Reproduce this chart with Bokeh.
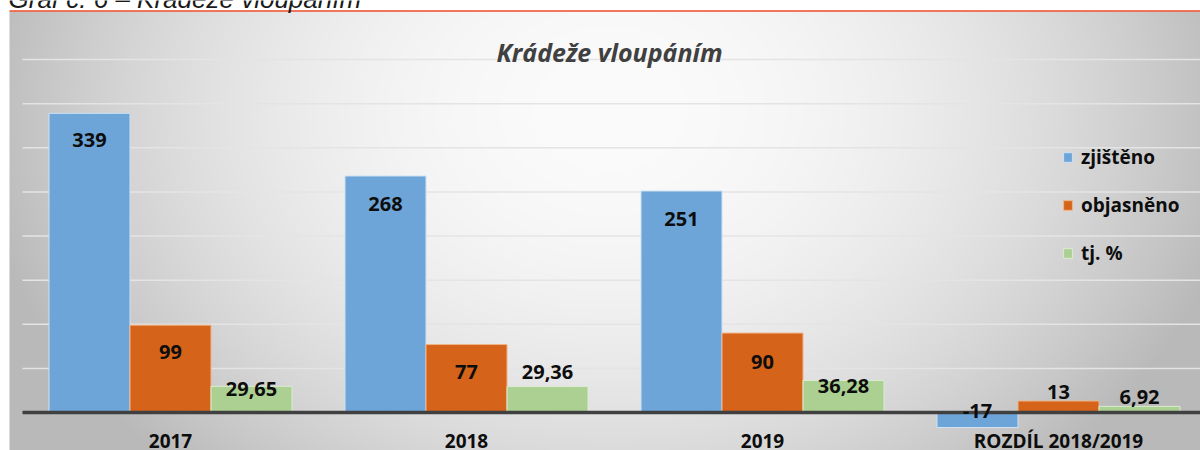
import numpy as np
from bokeh.plotting import figure
from bokeh.models import Range1d, ColumnDataSource, Legend, LegendItem, Label
from bokeh.transform import dodge
from bokeh.core.properties import value
from bokeh.embed import file_html
from bokeh.resources import INLINE

# ---------------- data ----------------
categories = ["2017", "2018", "2019", "ROZDÍL 2018/2019"]
zjisteno = [339, 268, 251, -17]
objasneno = [99, 77, 90, 13]
tj_procent = [29.65, 29.36, 36.28, 6.92]
zjisteno_labels = ["339", "268", "251", "-17"]
objasneno_labels = ["99", "77", "90", "13"]
tj_labels = ["29,65", "29,36", "36,28", "6,92"]
series_names = ["zjištěno", "objasněno", "tj. %"]
grid_values = [50, 100, 150, 200, 250, 300, 350, 400]
title_text = "Krádeže vloupáním"
header_text = "Graf č. 6 – Krádeže vloupáním"

# ---------------- layout / style ----------------
W, H = 1200, 450
PX_PER_CAT = 296.0
PLOT_LEFT = 22.0
ZERO_PX = 412.0
TOP_PX = 59.0
Y_MAX = 400.0
PY = (ZERO_PX - TOP_PX) / Y_MAX          # pixels per data unit
BAR_W = 81.0 / PX_PER_CAT

# label offsets (pixels, + = up from the bar end)
zj_off = [-27, -28, -28, 16.5]
ob_off = [-27, -27.5, -28.5, 9]
tj_off = [-3, 14.5, -6, 9.5]
CAT_LABEL_PX = 28

BLUE = "#6da5d8"
ORANGE = "#d5631a"
GREEN = "#abd092"
FONT = "Open Sans"
TXT = "#0d0d0d"


def X(px):
    return -0.5 + (px - PLOT_LEFT) / PX_PER_CAT


def Y(px):
    return (ZERO_PX - px) / PY


p = figure(width=W, height=H,
           x_range=Range1d(X(0), X(W)), y_range=Range1d(Y(H), Y(0)),
           x_axis_type=None, y_axis_type=None,
           output_backend="svg", toolbar_location=None,
           min_border=0, outline_line_color=None,
           background_fill_color="white", border_fill_color="white")

# ---- gradient panel background ----
nx, ny = 596, 220
gx = np.linspace(9, W, nx)
gy = np.linspace(H, 11, ny)          # bottom row first
GX, GY = np.meshgrid(gx, gy)
d2 = ((GX - 610) / 610) ** 2 + ((GY - 110) / 470) ** 2
v = np.clip(251 - 60 * d2, 185, 252).astype(np.uint8)
img = np.empty((ny, nx), dtype=np.uint32)
view = img.view(dtype=np.uint8).reshape((ny, nx, 4))
view[..., 0] = v
view[..., 1] = v
view[..., 2] = v
view[..., 3] = 255
p.image_rgba(image=[img], x=X(9), y=Y(H), dw=X(W) - X(9), dh=Y(11) - Y(H))

# red header rule
p.segment(x0=[X(9)], x1=[X(W)], y0=[Y(10.5)], y1=[Y(10.5)],
          line_color="#ef4a24", line_width=1.5)

# gridlines
n = len(categories)
p.segment(x0=[-0.5] * len(grid_values), x1=[n - 0.5] * len(grid_values),
          y0=grid_values, y1=grid_values, line_color="#e4e4e4", line_width=1.5)

xs = list(range(n))
src = ColumnDataSource(dict(
    x=xs, zj=zjisteno, ob=objasneno, tj=tj_procent,
    zj_lab=zjisteno_labels, ob_lab=objasneno_labels, tj_lab=tj_labels,
    zj_y=[v_ + o / PY for v_, o in zip(zjisteno, zj_off)],
    ob_y=[v_ + o / PY for v_, o in zip(objasneno, ob_off)],
    tj_y=[v_ + o / PY for v_, o in zip(tj_procent, tj_off)],
))

r1 = p.vbar(x=dodge("x", -BAR_W, range=p.x_range), top="zj", bottom=0, width=BAR_W,
            source=src, fill_color=BLUE, line_color="#cfe1f3", line_width=1)
r2 = p.vbar(x=dodge("x", 0, range=p.x_range), top="ob", bottom=0, width=BAR_W,
            source=src, fill_color=ORANGE, line_color="#f0b486", line_width=1)
r3 = p.vbar(x=dodge("x", BAR_W, range=p.x_range), top="tj", bottom=0, width=BAR_W,
            source=src, fill_color=GREEN, line_color="#dcebd2", line_width=1)

# zero line (category axis)
p.segment(x0=[-0.5], x1=[n - 0.5], y0=[0], y1=[0], line_color="#404040", line_width=3.5)

# value labels
for xoff, ycol, tcol in [(-BAR_W, "zj_y", "zj_lab"), (0, "ob_y", "ob_lab"), (BAR_W, "tj_y", "tj_lab")]:
    p.text(x=dodge("x", xoff, range=p.x_range), y=ycol, text=tcol, source=src,
           text_align="center", text_baseline="middle",
           text_font=value(FONT), text_font_style="bold", text_font_size="20px",
           text_color=TXT)

# category labels
p.text(x=xs, y=[-CAT_LABEL_PX / PY] * n, text=categories,
       text_align="center", text_baseline="middle",
       text_font=value(FONT), text_font_style="bold", text_font_size="19px",
       text_color=TXT)

# chart title
p.add_layout(Label(x=609, y=H - 51, x_units="screen", y_units="screen", text=title_text,
                   text_align="center", text_baseline="middle",
                   text_font=FONT, text_font_style="bold italic", text_font_size="25px",
                   text_color="#404040"))

# cut-off caption above the chart
p.add_layout(Label(x=8, y=H + 2, x_units="screen", y_units="screen", text=header_text,
                   text_align="left", text_baseline="alphabetic",
                   text_font="Liberation Sans", text_font_style="italic", text_font_size="26px",
                   text_color="#1a1a1a"))

legend = Legend(items=[LegendItem(label=series_names[0], renderers=[r1]),
                       LegendItem(label=series_names[1], renderers=[r2]),
                       LegendItem(label=series_names[2], renderers=[r3])],
                location=(1062, H - 266), orientation="vertical",
                glyph_width=11, glyph_height=12, label_standoff=8,
                label_height=26, spacing=22, padding=0, margin=0,
                border_line_color=None, background_fill_alpha=0,
                label_text_font=FONT, label_text_font_style="bold",
                label_text_font_size="19px", label_text_color=TXT)
p.add_layout(legend)

open("out.html", "w").write(file_html(p, INLINE))
